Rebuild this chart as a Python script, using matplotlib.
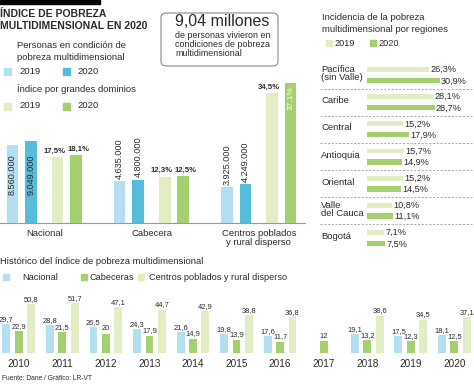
import numpy as np
import matplotlib
matplotlib.use("Agg")
import matplotlib.pyplot as plt
from matplotlib.patches import Rectangle, FancyBboxPatch

FONT = ["Liberation Sans Narrow", "Liberation Sans", "DejaVu Sans"]
plt.rcParams["font.family"] = FONT

# colours
C_LBLUE = "#b3dff0"
C_BLUE = "#55bddb"
C_LGREEN = "#e3edc3"
C_GREEN = "#a5d06f"
C_TEXT = "#2b2b2b"

# --- 2020 overview (personas / índice) ---
dominios = ["Nacional", "Cabecera", "Centros poblados\ny rural disperso"]
personas_2019 = [8560000, 4635000, 3925000]
personas_2020 = [9049000, 4800000, 4249000]
indice_2019 = [17.5, 12.3, 34.5]
indice_2020 = [18.1, 12.5, 37.1]

# --- regiones ---
regiones = ["Pacífica\n(sin Valle)", "Caribe", "Central", "Antioquia",
            "Oriental", "Valle\ndel Cauca", "Bogotá"]
reg_2019 = [26.3, 28.1, 15.2, 15.7, 15.2, 10.8, 7.1]
reg_2020 = [30.9, 28.7, 17.9, 14.9, 14.5, 11.1, 7.5]

# --- histórico ---
anios = [2010, 2011, 2012, 2013, 2014, 2015, 2016, 2017, 2018, 2019, 2020]
hist_nacional = [29.7, 28.8, 26.5, 24.3, 21.6, 19.8, 17.6, np.nan, 19.1, 17.5, 18.1]
hist_cabeceras = [22.9, 21.5, 20, 17.9, 14.9, 13.9, 11.7, 12, 13.2, 12.3, 12.5]
hist_rural = [50.8, 51.7, 47.1, 44.7, 42.9, 38.8, 36.8, np.nan, 38.6, 34.5, 37.1]

W, H = 474, 385


def fx(x):
    return x / W


def fy(y):
    return 1 - y / H


def num_es(v):
    return f"{v:g}".replace(".", ",")


def miles(v):
    return f"{v:,}".replace(",", ".")


fig = plt.figure(figsize=(W / 100, H / 100), dpi=100)


def ftext(x, y, s, **kw):
    kw.setdefault("color", C_TEXT)
    kw.setdefault("va", "center")
    fig.text(fx(x), fy(y), s, **kw)


def fsquare(x, y, color, size=7):
    fig.add_artist(Rectangle((fx(x), fy(y + size / 2)), size / W, size / H,
                             color=color, transform=fig.transFigure))


# header block top-left
fig.add_artist(Rectangle((0, fy(4)), 100 / W, 4 / H, color="black",
                         transform=fig.transFigure))
ftext(0, 14, "ÍNDICE DE POBREZA", fontsize=7.5, weight="bold")
ftext(0, 26, "MULTIDIMENSIONAL EN 2020", fontsize=7.5, weight="bold")
ftext(17, 45, "Personas en condición de", fontsize=6.8)
ftext(17, 57, "pobreza multidimensional", fontsize=6.8)
fsquare(4, 71, C_LBLUE)
ftext(19, 71, "2019", fontsize=6.8)
fsquare(63, 71, C_BLUE)
ftext(77, 71, "2020", fontsize=6.8)
ftext(17, 89, "Índice por grandes dominios", fontsize=6.8)
fsquare(4, 106, C_LGREEN)
ftext(19, 106, "2019", fontsize=6.8)
fsquare(63, 106, C_GREEN)
ftext(77, 106, "2020", fontsize=6.8)

# highlight box
fig.add_artist(FancyBboxPatch((fx(161), fy(66)), 117 / W, 53 / H,
                              boxstyle="round,pad=0,rounding_size=0.012",
                              transform=fig.transFigure, fill=False,
                              edgecolor="#8a8a8a", lw=0.8))
ftext(175, 22, "9,04 millones", fontsize=11.5)
ftext(175, 35.5, "de personas vivieron en", fontsize=6.4)
ftext(175, 44.5, "condiciones de pobreza", fontsize=6.4)
ftext(175, 53.5, "multidimensional", fontsize=6.4)

# main 2020 chart: twin scales (personas / porcentaje)
ax = fig.add_axes([0, fy(223), 305 / W, 143 / H])
ax2 = ax.twinx()
x = np.arange(len(dominios))
offs = [-0.3, -0.125, 0.12, 0.295]
bw = 0.11
ax.bar(x + offs[0], personas_2019, bw, color=C_LBLUE)
ax.bar(x + offs[1], personas_2020, bw, color=C_BLUE)
ax2.bar(x + offs[2], indice_2019, bw, color=C_LGREEN)
ax2.bar(x + offs[3], indice_2020, bw, color=C_GREEN)
ax.set_xlim(-0.416, 2.43)
ax.set_ylim(0, 15.78e6)
ax2.set_ylim(0, 37.9)
for a in (ax, ax2):
    a.axis("off")
ax.axhline(0, color="#9a9a9a", lw=0.8, clip_on=False)

for i in range(len(dominios)):
    for off, val in ((offs[0], personas_2019[i]), (offs[1], personas_2020[i])):
        if i == 0:
            # Nacional: figure written inside the bar
            ax.text(i + off, 5.3e6, miles(val), rotation=90,
                    ha="center", va="center", fontsize=6.6, color=C_TEXT)
        else:
            ax.text(i + off, val + 0.25e6, miles(val), rotation=90,
                    ha="center", va="bottom", fontsize=6.6, color=C_TEXT)
    ax2.text(i + offs[2] - 0.025, indice_2019[i] + 0.6,
             num_es(indice_2019[i]) + "%", ha="center", va="bottom",
             fontsize=5.6, weight="bold", color=C_TEXT)
    if i < 2:
        ax2.text(i + offs[3] + 0.02, indice_2020[i] + 0.6,
                 num_es(indice_2020[i]) + "%", ha="center", va="bottom",
                 fontsize=5.6, weight="bold", color=C_TEXT)
    else:
        ax2.text(i + offs[3], indice_2020[i] - 0.8, num_es(indice_2020[i]) + "%",
                 ha="center", va="top", rotation=90, fontsize=6.0,
                 color="white")
    ax.text(i, -0.045, dominios[i], transform=ax.get_xaxis_transform(),
            ha="center", va="top", fontsize=6.8, color=C_TEXT,
            linespacing=1.0)

# regions panel
ftext(322, 18, "Incidencia de la pobreza", fontsize=6.8)
ftext(322, 29, "multidimensional por regiones", fontsize=6.8)
fsquare(326, 43, C_LGREEN, 6)
ftext(334, 43, "2019", fontsize=6.6)
fsquare(370, 43, C_GREEN, 6)
ftext(378, 43, "2020", fontsize=6.6)

axr = fig.add_axes([fx(320), fy(252), 154 / W, 192 / H])
yr = np.arange(len(regiones))
axr.barh(yr - 0.2, reg_2019, 0.18, color=C_LGREEN)
axr.barh(yr + 0.2, reg_2020, 0.2, color=C_GREEN)
axr.set_xlim(-20.0, 45.5)
axr.set_ylim(6.52, -0.55)
axr.axis("off")
for k in range(len(regiones) - 1):
    axr.axhline(k + 0.5, color="#9a9a9a", lw=0.6, ls=(0, (2.5, 2)))
for k, name in enumerate(regiones):
    axr.text(-19.5, k - 0.05, name, ha="left", va="center", fontsize=6.8,
             color=C_TEXT, linespacing=0.95)
    axr.text(reg_2019[k] + 0.6, k - 0.2, num_es(reg_2019[k]) + "%",
             ha="left", va="center", fontsize=6.6, color=C_TEXT)
    axr.text(reg_2020[k] + 0.6, k + 0.22, num_es(reg_2020[k]) + "%",
             ha="left", va="center", fontsize=6.6, color=C_TEXT)

# historical chart
ftext(0, 262, "Histórico del índice de pobreza multidimensional", fontsize=6.8)
fsquare(3, 277, C_LBLUE, 6)
ftext(22, 277, "Nacional", fontsize=6.6)
fsquare(81, 277, C_GREEN, 6)
ftext(89, 277, "Cabeceras", fontsize=6.6)
fsquare(138, 277, C_LGREEN, 6)
ftext(149, 277, "Centros poblados y rural disperso", fontsize=6.6)

axb = fig.add_axes([0, fy(353), 1, 55 / H])
xb = np.arange(len(anios))
hb_off = 0.285
hw = 0.18
axb.bar(xb - hb_off, hist_nacional, hw, color=C_LBLUE)
axb.bar(xb, hist_cabeceras, hw, color=C_GREEN)
axb.bar(xb + hb_off, hist_rural, hw, color=C_LGREEN)
axb.set_xlim(-0.43, 10.45)
axb.set_ylim(0, 56.7)
for s in axb.spines.values():
    s.set_visible(False)
axb.set_yticks([])
axb.set_xticks(xb)
axb.set_xticklabels([str(a) for a in anios], fontsize=7.2, color=C_TEXT)
axb.tick_params(axis="x", length=0, pad=4)
for series, off in ((hist_nacional, -hb_off), (hist_cabeceras, 0),
                    (hist_rural, hb_off)):
    for k, v in enumerate(series):
        if np.isnan(v):
            continue
        axb.text(k + off, v + 1.2, num_es(v), ha="center", va="bottom",
                 fontsize=5.4, color=C_TEXT)

ftext(2, 379, "Fuente: Dane / Gráfico: LR-VT", fontsize=4.8)

fig.savefig("out.png", dpi=100)
